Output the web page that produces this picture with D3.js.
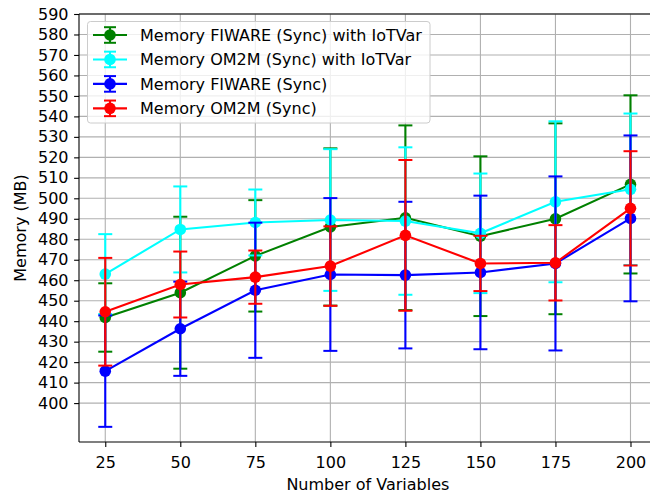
<!DOCTYPE html>
<html>
<head>
<meta charset="utf-8">
<script src="https://cdn.jsdelivr.net/npm/d3@7"></script>
<style>
  html, body { margin: 0; padding: 0; background: #fff; }
  svg { display: block; font-family: "DejaVu Sans", sans-serif; }
</style>
</head>
<body>
<svg id="chart" width="650" height="497"></svg>
<script>
// ---- data ----
const variables = [25, 50, 75, 100, 125, 150, 175, 200];
const yTicks = [400, 410, 420, 430, 440, 450, 460, 470, 480, 490, 500, 510, 520, 530, 540, 550, 560, 570, 580, 590];

const fiwareIoTVarMean = [441.8, 453.9, 471.9, 486.0, 490.5, 481.5, 490.0, 506.8];
const fiwareIoTVarErr  = [16.7, 37.1, 27.2, 38.4, 45.1, 39.0, 46.6, 43.5];
const om2mIoTVarMean   = [463.0, 484.8, 488.2, 489.4, 488.9, 482.9, 498.3, 504.4];
const om2mIoTVarErr    = [19.5, 21.0, 16.1, 34.6, 36.0, 29.2, 39.3, 37.0];
const fiwareMean       = [415.6, 436.3, 455.1, 462.8, 462.5, 463.8, 468.2, 490.2];
const fiwareErr        = [27.2, 23.0, 33.0, 37.3, 35.8, 37.5, 42.5, 40.5];
const om2mMean         = [444.6, 457.9, 461.5, 466.9, 481.9, 468.2, 468.5, 495.1];
const om2mErr          = [26.3, 16.1, 13.0, 19.4, 36.8, 13.5, 18.4, 27.9];

const seriesNames = ["Memory FIWARE (Sync) with IoTVar", "Memory OM2M (Sync) with IoTVar", "Memory FIWARE (Sync)", "Memory OM2M (Sync)"];
const seriesColors = ["#008000", "#00ffff", "#0000ff", "#ff0000"];
const seriesMeans = [fiwareIoTVarMean, om2mIoTVarMean, fiwareMean, om2mMean];
const seriesErrs = [fiwareIoTVarErr, om2mIoTVarErr, fiwareErr, om2mErr];

(function () {
const FS = "16px";
const svg = d3.select("#chart");
const pL = 79, pT = 14, pB = 442, pR = 656.75;

const x = d3.scaleLinear().domain([16.25, 208.75]).range([pL, pR]);
const y = d3.scaleLinear().domain([381, 590]).range([pB, pT]);

// grid
const grid = svg.append("g");
grid.selectAll("line.gx").data(variables).enter().append("line")
  .attr("x1", d => x(d)).attr("x2", d => x(d))
  .attr("y1", pT).attr("y2", pB)
  .attr("stroke", "#b0b0b0").attr("stroke-width", 1.1);
grid.selectAll("line.gy").data(yTicks).enter().append("line")
  .attr("x1", pL).attr("x2", pR)
  .attr("y1", d => y(d)).attr("y2", d => y(d))
  .attr("stroke", "#b0b0b0").attr("stroke-width", 1.1);

// series
const capHalf = 7;
seriesNames.forEach((name, i) => {
  const g = svg.append("g");
  const color = seriesColors[i];
  const data = variables.map((v, j) => ({x: v, m: seriesMeans[i][j], e: seriesErrs[i][j]}));
  g.selectAll("line.eb").data(data).enter().append("line")
    .attr("x1", d => x(d.x)).attr("x2", d => x(d.x))
    .attr("y1", d => y(d.m - d.e)).attr("y2", d => y(d.m + d.e))
    .attr("stroke", color).attr("stroke-width", 2.1);
  ["lo", "hi"].forEach(side => {
    g.selectAll("line.cap" + side).data(data).enter().append("line")
      .attr("x1", d => x(d.x) - capHalf).attr("x2", d => x(d.x) + capHalf)
      .attr("y1", d => y(side === "lo" ? d.m - d.e : d.m + d.e))
      .attr("y2", d => y(side === "lo" ? d.m - d.e : d.m + d.e))
      .attr("stroke", color).attr("stroke-width", 2);
  });
  g.append("path").datum(data)
    .attr("d", d3.line().x(d => x(d.x)).y(d => y(d.m)))
    .attr("fill", "none").attr("stroke", color).attr("stroke-width", 2.1);
  g.selectAll("circle").data(data).enter().append("circle")
    .attr("cx", d => x(d.x)).attr("cy", d => y(d.m)).attr("r", 5.8)
    .attr("fill", color);
});

// axes
const yAxis = d3.axisLeft(y).tickValues(yTicks).tickSize(4.9).tickPadding(5);
const xAxis = d3.axisBottom(x).tickValues(variables).tickSize(4.9).tickPadding(5);
const gy = svg.append("g").attr("transform", `translate(${pL},0)`).call(yAxis);
const gx = svg.append("g").attr("transform", `translate(0,${pB})`).call(xAxis);
[gx, gy].forEach(g => {
  g.select(".domain").remove();
  g.selectAll("text").attr("font-family", "DejaVu Sans").attr("font-size", FS).attr("fill", "#000");
  g.selectAll(".tick line").attr("stroke", "#000").attr("stroke-width", 1.1);
});
gx.selectAll("text").attr("y", 26.3).attr("dy", null);
gy.selectAll("text").attr("x", -10.5);
svg.append("line").attr("x1", pL).attr("x2", pL).attr("y1", pT).attr("y2", pB).attr("stroke", "#000").attr("stroke-width", 1.1);
svg.append("line").attr("x1", pL).attr("x2", pR).attr("y1", pB).attr("y2", pB).attr("stroke", "#000").attr("stroke-width", 1.1);
svg.append("line").attr("x1", pL).attr("x2", pR).attr("y1", pT).attr("y2", pT).attr("stroke", "#000").attr("stroke-width", 1.1);

// axis labels
svg.append("text").attr("x", (pL + pR) / 2).attr("y", 490)
  .attr("text-anchor", "middle").attr("font-size", FS).text("Number of Variables");
svg.append("text").attr("transform", `translate(26,${(pT + pB) / 2}) rotate(-90)`)
  .attr("text-anchor", "middle").attr("font-size", FS).text("Memory (MB)");

// legend
const lg = svg.append("g");
lg.append("rect").attr("x", 87.5).attr("y", 21.5).attr("width", 342.5).attr("height", 101.5)
  .attr("rx", 3).attr("fill", "#fff").attr("fill-opacity", 0.8)
  .attr("stroke", "#cccccc").attr("stroke-width", 1);
seriesNames.forEach((name, i) => {
  const cy = 35 + i * 24.45;
  const color = seriesColors[i];
  lg.append("line").attr("x1", 93).attr("x2", 127).attr("y1", cy).attr("y2", cy)
    .attr("stroke", color).attr("stroke-width", 2.1);
  lg.append("line").attr("x1", 110).attr("x2", 110).attr("y1", cy - 7.8).attr("y2", cy + 7.8)
    .attr("stroke", color).attr("stroke-width", 2.1);
  [cy - 7.8, cy + 7.8].forEach(yy => {
    lg.append("line").attr("x1", 104).attr("x2", 116).attr("y1", yy).attr("y2", yy)
      .attr("stroke", color).attr("stroke-width", 2);
  });
  lg.append("circle").attr("cx", 110).attr("cy", cy).attr("r", 5.8).attr("fill", color);
  lg.append("text").attr("x", 140).attr("y", cy).attr("dy", "0.36em")
    .attr("font-size", FS).attr("fill", "#000").text(name);
});
})();
</script>
</body>
</html>
